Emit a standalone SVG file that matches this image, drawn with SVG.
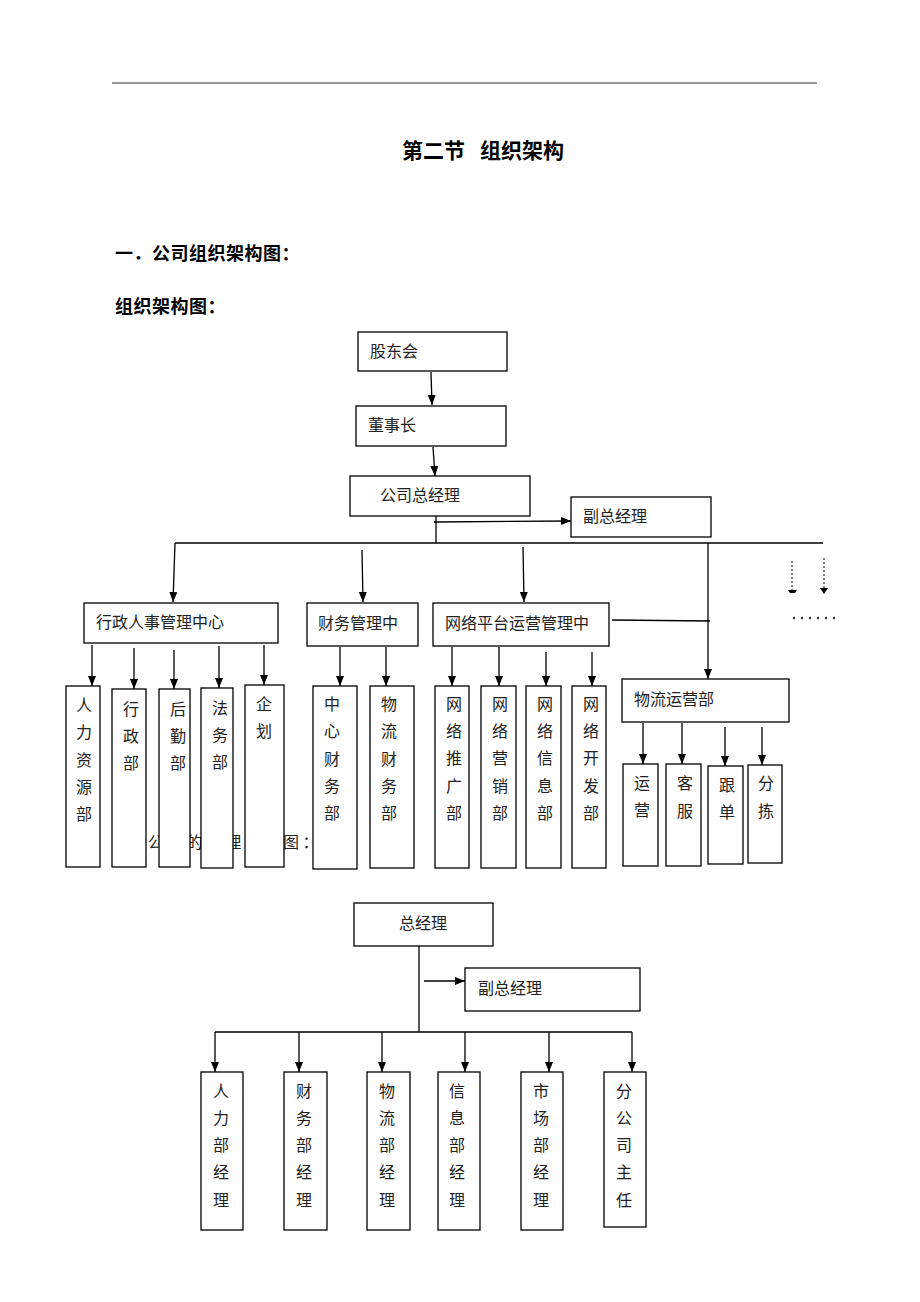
<svg xmlns="http://www.w3.org/2000/svg" width="920" height="1302" viewBox="0 0 920 1302">
<defs>
<marker id="ah" markerWidth="10" markerHeight="10" refX="10" refY="5" orient="auto" markerUnits="userSpaceOnUse"><path d="M0,1 L10,5 L0,9 z" fill="#000"/></marker>
<style>
text{font-family:"Noto Sans CJK SC","Noto Sans",sans-serif;fill:#222}
.h{font-weight:bold;font-size:18px;fill:#000;letter-spacing:0.5px}
.t{font-size:21px;font-weight:bold;fill:#000}
.l{font-size:16px}
.v{font-size:16px;text-anchor:middle}
rect.b{fill:#fff;stroke:#000;stroke-width:1.3}
.c line,.c path{stroke:#000;stroke-width:1.3;fill:none}
.a{marker-end:url(#ah)}
</style>
</defs>
<rect width="920" height="1302" fill="#fff"/>
<line x1="112" y1="83" x2="817" y2="83" stroke="#333" stroke-width="1"/>
<text class="t" x="402" y="158">第二节</text>
<text class="t" x="480" y="158">组织架构</text>
<text class="h" x="115" y="260">一．公司组织架构图：</text>
<text class="h" x="115" y="313">组织架构图：</text>
<text x="148" y="848" style="font-size:16px;letter-spacing:3.3px">公司的管理架构图：</text>

<g class="c" id="connectors">
<line class="a" x1="431" y1="372" x2="432" y2="405"/>
<line class="a" x1="433" y1="447" x2="435" y2="476"/>
<line x1="436" y1="516" x2="436" y2="543"/>
<line class="a" x1="434" y1="522" x2="571" y2="521"/>
<line x1="175" y1="543" x2="823" y2="543"/>
<line class="a" x1="175" y1="543" x2="173" y2="602"/>
<line class="a" x1="362" y1="550" x2="363" y2="602"/>
<line class="a" x1="523" y1="547" x2="524" y2="602"/>
<line class="a" x1="708" y1="543" x2="708" y2="679"/>
<line x1="612" y1="620" x2="710" y2="621"/>
<line class="a" x1="92" y1="645" x2="92" y2="686"/>
<line class="a" x1="134" y1="648" x2="134" y2="689"/>
<line class="a" x1="174" y1="650" x2="174" y2="689"/>
<line class="a" x1="219" y1="646" x2="219" y2="688"/>
<line class="a" x1="264" y1="645" x2="264" y2="685"/>
<line class="a" x1="340" y1="647" x2="340" y2="686"/>
<line class="a" x1="386" y1="647" x2="386" y2="686"/>
<line class="a" x1="452" y1="647" x2="452" y2="686"/>
<line class="a" x1="499" y1="647" x2="499" y2="686"/>
<line class="a" x1="546" y1="652" x2="546" y2="686"/>
<line class="a" x1="592" y1="652" x2="592" y2="686"/>
<line class="a" x1="643" y1="723" x2="643" y2="764"/>
<line class="a" x1="682" y1="723" x2="682" y2="764"/>
<line class="a" x1="725" y1="727" x2="725" y2="766"/>
<line class="a" x1="762" y1="727" x2="762" y2="765"/>
<line x1="792" y1="561" x2="792" y2="590" stroke-dasharray="2,2" style="stroke:#444"/>
<path d="M788,590 L797,590 L795,593 L790,593 z" style="fill:#000;stroke:none"/>
<line x1="824" y1="558" x2="824" y2="588" stroke-dasharray="2,2" style="stroke:#444"/>
<path d="M820,588 L828,588 L824,594 z" style="fill:#000;stroke:none"/>
<line x1="419" y1="946" x2="419" y2="1032"/>
<line class="a" x1="424" y1="981" x2="465" y2="981"/>
<line x1="215" y1="1032" x2="632" y2="1032"/>
<line class="a" x1="215" y1="1032" x2="215" y2="1072"/>
<line class="a" x1="299" y1="1032" x2="299" y2="1072"/>
<line class="a" x1="382" y1="1032" x2="382" y2="1072"/>
<line class="a" x1="465" y1="1032" x2="465" y2="1072"/>
<line class="a" x1="549" y1="1032" x2="549" y2="1072"/>
<line class="a" x1="632" y1="1032" x2="632" y2="1072"/>
</g>
<g id="dots" fill="#222">
<circle cx="794" cy="618" r="1.2"/><circle cx="802" cy="618" r="1.2"/><circle cx="810" cy="618" r="1.2"/><circle cx="818" cy="618" r="1.2"/><circle cx="826" cy="618" r="1.2"/><circle cx="834" cy="618" r="1.2"/>
</g>

<g id="gudonghui"><rect class="b" x="358" y="332" width="149" height="39"/><text class="l" x="370" y="357">股东会</text></g>
<g id="dongshizhang"><rect class="b" x="356" y="406" width="150" height="40"/><text class="l" x="368" y="431">董事长</text></g>
<g id="zongjingli"><rect class="b" x="350" y="476" width="180" height="40"/><text class="l" x="380" y="501">公司总经理</text></g>
<g id="fuzong"><rect class="b" x="571" y="497" width="140" height="40"/><text class="l" x="583" y="522">副总经理</text></g>
<g id="xingzheng"><rect class="b" x="84" y="603" width="194" height="40"/><text class="l" x="96" y="628">行政人事管理中心</text></g>
<g id="caiwu"><rect class="b" x="307" y="603" width="111" height="43"/><text class="l" x="318" y="629">财务管理中</text></g>
<g id="wangluo"><rect class="b" x="433" y="603" width="176" height="43"/><text class="l" x="445" y="629">网络平台运营管理中</text></g>
<g id="wuliu"><rect class="b" x="622" y="679" width="167" height="43"/><text class="l" x="634" y="705">物流运营部</text></g>

<g id="renli"><rect class="b" x="66" y="686" width="34" height="181"/><text class="v"><tspan x="84" y="711">人</tspan><tspan x="84" y="738">力</tspan><tspan x="84" y="766">资</tspan><tspan x="84" y="793">源</tspan><tspan x="84" y="820">部</tspan></text></g>
<g id="xingzhengbu"><rect class="b" x="112" y="689" width="34" height="178"/><text class="v"><tspan x="131" y="715">行</tspan><tspan x="131" y="742">政</tspan><tspan x="131" y="769">部</tspan></text></g>
<g id="houqin"><rect class="b" x="159" y="689" width="31" height="178"/><text class="v"><tspan x="178" y="715">后</tspan><tspan x="178" y="742">勤</tspan><tspan x="178" y="769">部</tspan></text></g>
<g id="fawu"><rect class="b" x="201" y="688" width="32" height="180"/><text class="v"><tspan x="220" y="714">法</tspan><tspan x="220" y="741">务</tspan><tspan x="220" y="768">部</tspan></text></g>
<g id="qihua"><rect class="b" x="245" y="685" width="39" height="182"/><text class="v"><tspan x="264" y="710">企</tspan><tspan x="264" y="737">划</tspan></text></g>
<g id="zhongxin"><rect class="b" x="313" y="686" width="44" height="183"/><text class="v"><tspan x="332" y="710">中</tspan><tspan x="332" y="737">心</tspan><tspan x="332" y="765">财</tspan><tspan x="332" y="792">务</tspan><tspan x="332" y="819">部</tspan></text></g>
<g id="wuliucaiwu"><rect class="b" x="370" y="686" width="44" height="182"/><text class="v"><tspan x="389" y="710">物</tspan><tspan x="389" y="737">流</tspan><tspan x="389" y="765">财</tspan><tspan x="389" y="792">务</tspan><tspan x="389" y="819">部</tspan></text></g>
<g id="tuiguang"><rect class="b" x="435" y="686" width="34" height="182"/><text class="v"><tspan x="454" y="710">网</tspan><tspan x="454" y="737">络</tspan><tspan x="454" y="764">推</tspan><tspan x="454" y="792">广</tspan><tspan x="454" y="819">部</tspan></text></g>
<g id="yingxiao"><rect class="b" x="481" y="686" width="35" height="182"/><text class="v"><tspan x="500" y="710">网</tspan><tspan x="500" y="737">络</tspan><tspan x="500" y="764">营</tspan><tspan x="500" y="792">销</tspan><tspan x="500" y="819">部</tspan></text></g>
<g id="xinxi"><rect class="b" x="526" y="686" width="35" height="182"/><text class="v"><tspan x="545" y="710">网</tspan><tspan x="545" y="737">络</tspan><tspan x="545" y="764">信</tspan><tspan x="545" y="792">息</tspan><tspan x="545" y="819">部</tspan></text></g>
<g id="kaifa"><rect class="b" x="572" y="686" width="34" height="182"/><text class="v"><tspan x="591" y="710">网</tspan><tspan x="591" y="737">络</tspan><tspan x="591" y="764">开</tspan><tspan x="591" y="792">发</tspan><tspan x="591" y="819">部</tspan></text></g>
<g id="yunying"><rect class="b" x="623" y="764" width="35" height="102"/><text class="v"><tspan x="642" y="789">运</tspan><tspan x="642" y="816">营</tspan></text></g>
<g id="kefu"><rect class="b" x="666" y="764" width="35" height="102"/><text class="v"><tspan x="685" y="789">客</tspan><tspan x="685" y="817">服</tspan></text></g>
<g id="gendan"><rect class="b" x="708" y="766" width="35" height="98"/><text class="v"><tspan x="727" y="791">跟</tspan><tspan x="727" y="818">单</tspan></text></g>
<g id="fenjian"><rect class="b" x="748" y="765" width="34" height="98"/><text class="v"><tspan x="766" y="789">分</tspan><tspan x="766" y="817">拣</tspan></text></g>

<g id="zjl2"><rect class="b" x="354" y="903" width="139" height="43"/><text class="l" x="399" y="929">总经理</text></g>
<g id="fzjl2"><rect class="b" x="465" y="968" width="175" height="43"/><text class="l" x="478" y="994">副总经理</text></g>
<g id="m1"><rect class="b" x="201" y="1072" width="42" height="158"/><text class="v"><tspan x="221" y="1097">人</tspan><tspan x="221" y="1124">力</tspan><tspan x="221" y="1151">部</tspan><tspan x="221" y="1178">经</tspan><tspan x="221" y="1206">理</tspan></text></g>
<g id="m2"><rect class="b" x="284" y="1072" width="43" height="158"/><text class="v"><tspan x="304" y="1097">财</tspan><tspan x="304" y="1124">务</tspan><tspan x="304" y="1151">部</tspan><tspan x="304" y="1178">经</tspan><tspan x="304" y="1206">理</tspan></text></g>
<g id="m3"><rect class="b" x="367" y="1072" width="43" height="158"/><text class="v"><tspan x="387" y="1097">物</tspan><tspan x="387" y="1124">流</tspan><tspan x="387" y="1151">部</tspan><tspan x="387" y="1178">经</tspan><tspan x="387" y="1206">理</tspan></text></g>
<g id="m4"><rect class="b" x="438" y="1072" width="42" height="158"/><text class="v"><tspan x="457" y="1097">信</tspan><tspan x="457" y="1124">息</tspan><tspan x="457" y="1151">部</tspan><tspan x="457" y="1178">经</tspan><tspan x="457" y="1206">理</tspan></text></g>
<g id="m5"><rect class="b" x="521" y="1072" width="42" height="158"/><text class="v"><tspan x="541" y="1097">市</tspan><tspan x="541" y="1124">场</tspan><tspan x="541" y="1151">部</tspan><tspan x="541" y="1178">经</tspan><tspan x="541" y="1206">理</tspan></text></g>
<g id="m6"><rect class="b" x="604" y="1072" width="42" height="155"/><text class="v"><tspan x="624" y="1097">分</tspan><tspan x="624" y="1124">公</tspan><tspan x="624" y="1151">司</tspan><tspan x="624" y="1178">主</tspan><tspan x="624" y="1206">任</tspan></text></g>
</svg>
